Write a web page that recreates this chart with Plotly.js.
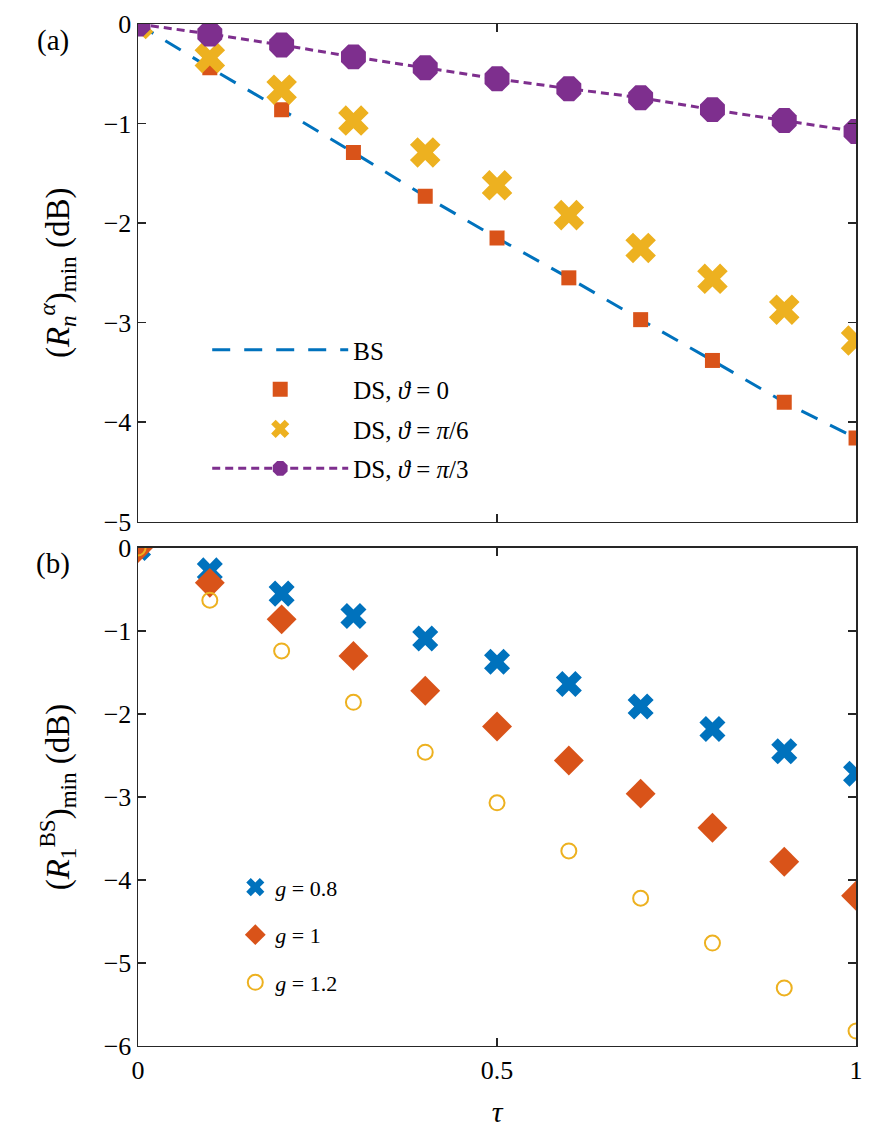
<!DOCTYPE html>
<html>
<head>
<meta charset="utf-8">
<script src="https://cdn.plot.ly/plotly-3.0.1.min.js"></script>
<style>html,body{margin:0;padding:0;background:#fff;}#chart{width:878px;height:1128px;}</style>
</head>
<body>
<div id="chart"></div>
<script>
// ---- data ----
const tau = [0, 0.1, 0.2, 0.3, 0.4, 0.5, 0.6, 0.7, 0.8, 0.9, 1.0];
// panel (a)
const bsLine   = [0, -0.44, -0.86, -1.29, -1.73, -2.15, -2.55, -2.97, -3.38, -3.80, -4.16];
const dsTheta0 = [0, -0.44, -0.86, -1.29, -1.73, -2.15, -2.55, -2.97, -3.38, -3.80, -4.16];
const dsPi6    = [0, -0.34, -0.66, -0.97, -1.29, -1.62, -1.92, -2.25, -2.56, -2.87, -3.18];
const dsPi3    = [0, -0.10, -0.21, -0.33, -0.44, -0.55, -0.65, -0.74, -0.86, -0.97, -1.08];
// panel (b)
const g08 = [0, -0.27, -0.55, -0.82, -1.09, -1.37, -1.64, -1.91, -2.18, -2.45, -2.72];
const g10 = [0, -0.42, -0.86, -1.30, -1.72, -2.15, -2.56, -2.96, -3.37, -3.78, -4.19];
const g12 = [0, -0.63, -1.24, -1.86, -2.46, -3.07, -3.65, -4.22, -4.76, -5.30, -5.82];
const xTicks = [0, 0.5, 1];
const xTickText = ['0', '0.5', '1'];
const yTicksA = [0, -1, -2, -3, -4, -5];
const yTicksB = [0, -1, -2, -3, -4, -5, -6];

const C_BLUE = '#0072BD', C_ORANGE = '#D95319', C_YELLOW = '#EDB120', C_PURPLE = '#7E2F8E';
const FONT = 'Liberation Serif, DejaVu Serif, serif';

const traces = [
  {x: tau, y: bsLine, mode: 'lines', name: 'BS', xaxis: 'x', yaxis: 'y', legend: 'legend', legendgroup: 'a1',
   line: {color: C_BLUE, width: 3, dash: '18px,14px'}},
  {x: tau, y: dsTheta0, mode: 'markers', name: 'DS, <i>ϑ</i> = 0', xaxis: 'x', yaxis: 'y', legend: 'legend', legendgroup: 'a2',
   marker: {symbol: 'square', size: 15, color: C_ORANGE}},
  {x: tau, y: dsPi6, mode: 'markers', name: 'DS, <i>ϑ</i> = <i>π</i>/6', xaxis: 'x', yaxis: 'y', legend: 'legend', legendgroup: 'a3',
   marker: {symbol: 'x', size: 27, color: C_YELLOW}},
  {x: tau, y: dsPi3, mode: 'lines+markers', name: 'DS, <i>ϑ</i> = <i>π</i>/3', xaxis: 'x', yaxis: 'y', legend: 'legend', legendgroup: 'a4',
   line: {color: C_PURPLE, width: 3, dash: '8px,5px'}, marker: {symbol: 'octagon', size: 27, color: C_PURPLE}},
  {x: tau, y: g08, mode: 'markers', name: '<i>g</i> = 0.8', xaxis: 'x2', yaxis: 'y2', legend: 'legend2', legendgroup: 'b1',
   marker: {symbol: 'x', size: 23, color: C_BLUE}},
  {x: tau, y: g10, mode: 'markers', name: '<i>g</i> = 1', xaxis: 'x2', yaxis: 'y2', legend: 'legend2', legendgroup: 'b2',
   marker: {symbol: 'diamond', size: 23, color: C_ORANGE}},
  {x: tau, y: g12, mode: 'markers', name: '<i>g</i> = 1.2', xaxis: 'x2', yaxis: 'y2', legend: 'legend2', legendgroup: 'b3',
   marker: {symbol: 'circle-open', size: 15, color: C_YELLOW, line: {width: 2, color: C_YELLOW}}}
];

const axCommon = {
  showline: true, linecolor: '#262626', linewidth: 1.5, mirror: 'ticks',
  ticks: 'inside', ticklen: 8, tickwidth: 1.5, tickcolor: '#262626',
  showgrid: false, zeroline: false, tickfont: {family: FONT, size: 26, color: '#000'}
};

const layout = {
  width: 878, height: 1128,
  margin: {l: 0, r: 0, t: 0, b: 0},
  paper_bgcolor: '#fff', plot_bgcolor: '#fff',
  font: {family: FONT, color: '#000'},
  xaxis: Object.assign({}, axCommon, {domain: [0.1572, 0.975], range: [0, 1], anchor: 'y',
    tickvals: xTicks, showticklabels: false}),
  yaxis: Object.assign({}, axCommon, {domain: [0.5375, 0.9787], range: [-5, 0], anchor: 'x',
    tickvals: yTicksA,
    title: {text: '(<i>R</i><sub><i>n</i></sub><sup><i>α</i></sup>)<sub>min</sub> (dB)', font: {family: FONT, size: 33}, standoff: 24}}),
  xaxis2: Object.assign({}, axCommon, {domain: [0.1572, 0.975], range: [0, 1], anchor: 'y2',
    tickvals: xTicks, ticktext: xTickText,
    title: {text: '<i>τ</i>', font: {family: FONT, size: 30}, standoff: 18}}),
  yaxis2: Object.assign({}, axCommon, {domain: [0.0727, 0.5142], range: [-6, 0], anchor: 'x2',
    tickvals: yTicksB,
    title: {text: '(<i>R</i><sub>1</sub><sup>BS</sup>)<sub>min</sub> (dB)', font: {family: FONT, size: 33}, standoff: 24}}),
  legend: {x: 0.236, y: 0.71, xanchor: 'left', yanchor: 'top', bgcolor: 'rgba(0,0,0,0)',
    font: {family: FONT, size: 25}, traceorder: 'grouped', tracegroupgap: 4, itemwidth: 136},
  legend2: {x: 0.268, y: 0.232, xanchor: 'left', yanchor: 'top', bgcolor: 'rgba(0,0,0,0)',
    font: {family: FONT, size: 22}, traceorder: 'grouped', tracegroupgap: 16},
  annotations: [
    {text: '(a)', xref: 'paper', yref: 'paper', x: 0.06, y: 1 - 40 / 1128, xanchor: 'center', yanchor: 'middle',
     showarrow: false, font: {family: FONT, size: 29}},
    {text: '(b)', xref: 'paper', yref: 'paper', x: 0.06, y: 1 - 563 / 1128, xanchor: 'center', yanchor: 'middle',
     showarrow: false, font: {family: FONT, size: 29}}
  ]
};

Plotly.newPlot('chart', traces, layout, {staticPlot: true});
</script>
</body>
</html>
